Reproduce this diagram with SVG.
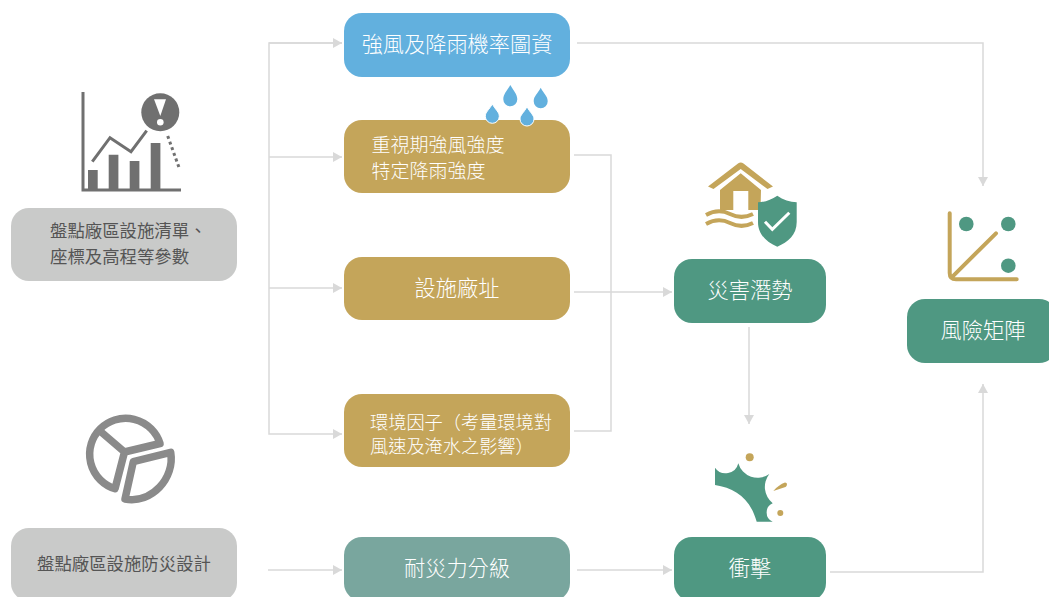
<svg xmlns="http://www.w3.org/2000/svg" width="1049" height="597" viewBox="0 0 1049 597">
<defs>
<style>
text{font-family:"Noto Sans CJK TC","Noto Sans",sans-serif;font-weight:300}
.w{fill:#fff;text-anchor:middle;font-size:21.2px}
.s{fill:#fff;font-size:19px}
.e{fill:#fff;font-size:18.2px}
.d{fill:#555;font-size:17.4px;font-weight:400}
.c{fill:none;stroke:#d9d9d9;stroke-width:1.5}
.g{fill:#c4a55a}.t{fill:#4f9882}.b{fill:#62b0de}.k{fill:#c9cac9}
</style>
<marker id="a" markerUnits="userSpaceOnUse" markerWidth="12" markerHeight="12" refX="9" refY="5" orient="auto"><path d="M0 0L9 5L0 10Z" fill="#d9d9d9"/></marker>
</defs>
<rect width="1049" height="597" fill="#fff"/>
<g id="connectors">
<path class="c" d="M342 43H269V434H342" marker-end="url(#a)"/>
<path class="c" d="M269 43H342" marker-end="url(#a)"/>
<path class="c" d="M269 157H342" marker-end="url(#a)"/>
<path class="c" d="M269 288H342" marker-end="url(#a)"/>
<path class="c" d="M574 155H611V431H574"/>
<path class="c" d="M574 292H672" marker-end="url(#a)"/>
<path class="c" d="M577 43H983V186" marker-end="url(#a)"/>
<path class="c" d="M749 327V424" marker-end="url(#a)"/>
<path class="c" d="M268 570H342" marker-end="url(#a)"/>
<path class="c" d="M577 570H672" marker-end="url(#a)"/>
<path class="c" d="M830 572H983V384" marker-end="url(#a)"/>
</g>
<g id="n-rain"><rect x="344" y="13" width="226" height="64" rx="18" class="b"/><text class="w" x="457" y="52">強風及降雨機率圖資</text></g>
<g id="n-wind"><rect x="344" y="120" width="226" height="73" rx="18" class="g"/><text class="s" x="371.500" y="152">重視期強風強度</text><text class="s" x="371.500" y="178">特定降雨強度</text></g>
<g id="drops" class="b" stroke="#fff" stroke-width="1">
<path stroke="none" d="M510.300 85C507 91 503.300 94 503.300 99.300A7 7 0 0 0 517.300 99.300C517.300 94 513.600 91 510.300 85Z"/>
<path stroke="none" d="M540.700 87.700C537.400 94 533.700 96 533.700 101.300A7 7 0 0 0 547.700 101.300C547.700 96 544 94 540.700 87.700Z"/>
<path d="M492.300 104C489 110 485.300 112 485.300 116.300A7 7 0 0 0 499.300 116.300C499.300 112 495.600 110 492.300 104Z"/>
<path d="M527 106.700C523.700 113 520 115 520 119A7 7 0 0 0 534 119C534 115 530.300 113 527 106.700Z"/>
</g>
<g id="n-site"><rect x="344" y="257" width="226" height="63" rx="18" class="g"/><text class="w" x="457" y="296">設施廠址</text></g>
<g id="n-env"><rect x="344" y="394" width="226" height="73" rx="18" class="g"/><text class="e" x="370" y="429">環境因子（考量環境對</text><text class="e" x="370" y="453">風速及淹水之影響）</text></g>
<g id="n-fragility"><rect x="344" y="537" width="226" height="64" rx="18" fill="#79a69e"/><text class="w" x="457" y="576">耐災力分級</text></g>
<g id="n-hazard"><rect x="674" y="259" width="152" height="64" rx="18" class="t"/><text class="w" x="750" y="298">災害潛勢</text></g>
<g id="n-impact"><rect x="674" y="537" width="152" height="64" rx="18" class="t"/><text class="w" x="750" y="576">衝擊</text></g>
<g id="n-risk"><rect x="907" y="299" width="150" height="64" rx="18" class="t"/><text class="w" x="983" y="338">風險矩陣</text></g>
<g id="n-inventory"><rect x="11" y="208" width="226" height="73" rx="18" class="k"/><text class="d" x="50" y="237">盤點廠區設施清單、</text><text class="d" x="50" y="263">座標及高程等參數</text></g>
<g id="n-design"><rect x="11" y="528" width="226" height="73" rx="18" class="k"/><text class="d" x="37" y="570">盤點廠區設施防災設計</text></g>
<g id="icon-chart">
<path d="M83 92V190H181" fill="none" stroke="#707070" stroke-width="3"/>
<path fill="#707070" d="M88 170h9.700v20H88zM108.700 154.700h9.700V190h-9.700zM129.700 161h9.700v29h-9.700zM150.700 143h9.700v47h-9.700z"/>
<path d="M92.300 161.700L110 137.700L131 151.700L146.700 130.700" fill="none" stroke="#707070" stroke-width="3"/>
<circle cx="160.300" cy="112.300" r="19" fill="#707070"/>
<path d="M154 99.300H166L160.300 116Z" fill="#fff"/><circle cx="160.300" cy="122.300" r="3.300" fill="#fff"/>
<path d="M167.700 136L179.300 168.300" stroke="#707070" stroke-width="3" stroke-dasharray="3 3" fill="none"/>
</g>
<g id="icon-pie" fill="none" stroke="#8a8a8a" stroke-width="7.500" stroke-linejoin="round" stroke-linecap="round">
<path d="M124.500 452L160 443.500A36 36 0 1 0 115 488.700ZM124.500 452L100 431"/>
<path d="M133.300 461.700L170.700 452.300C175 478 152 504 125 499Z"/>
</g>
<g id="icon-house">
<path class="g" d="M708 186.500L738 163.500Q740.700 161.500 743.500 163.500L773 186.500L767.500 189L740.700 169L713.500 189Z"/>
<path class="g" d="M720 190L740.700 173.300L761 190L760.500 210H748.300V191H733.300V210H720Z"/>
<path d="M706 215C715 210 722 210 730 214S745 218 753 214M706 224C715 219 722 219 730 223S745 227 753 223" fill="none" stroke="#c4a55a" stroke-width="4"/>
<path class="t" d="M777.300 195.700C771 200 765 202 758 202.300V222C758 235 767 242 777.300 246.700C788 242 796.700 235 796.700 222V202.300C790 202 783 200 777.300 195.700Z"/>
<path d="M765 221.700L772.300 229.300L789.300 212.700" fill="none" stroke="#fff" stroke-width="3"/>
</g>
<g id="icon-impact">
<circle cx="749.700" cy="457.300" r="4" class="g"/>
<path class="t" d="M715 467.700A13 13 0 0 0 738.300 463.300A20 20 0 0 0 769.300 474A21 21 0 0 0 772.700 503.300A10 10 0 0 0 772.700 521.700H756.700C750 498 735 488 715 485Z"/>
<path class="g" d="M773.300 491C777 486.500 781 484 785 482.500C787.500 482.500 787.500 485.500 785.500 487Z"/>
<circle cx="780.300" cy="513" r="3" class="g"/>
</g>
<g id="icon-matrix">
<path d="M949.700 213.300V273Q949.700 279.300 956 279.300H1016.700M951.700 277.300L996 233.300" fill="none" stroke="#c4a55a" stroke-width="4" stroke-linecap="round"/>
<circle cx="966.300" cy="224" r="7.300" class="t"/><circle cx="1008.300" cy="224" r="7.300" class="t"/><circle cx="1008.300" cy="265.700" r="7.300" class="t"/>
</g>
</svg>
